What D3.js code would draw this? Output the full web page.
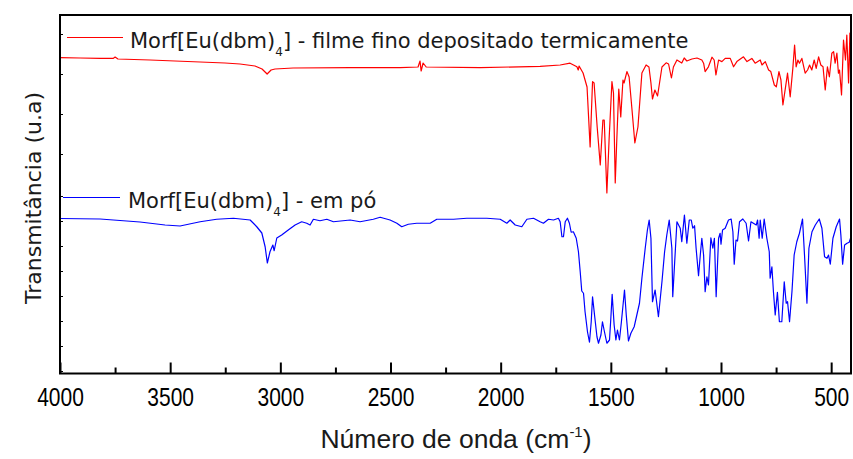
<!DOCTYPE html>
<html><head><meta charset="utf-8">
<script src="https://cdn.jsdelivr.net/npm/d3@7"></script>
<style>
html,body{margin:0;padding:0;background:#fff;}
svg{display:block;}
</style></head>
<body>
<svg id="chart" width="853" height="459"></svg>
<script>
// ---- data ----
const redWavenumber = [4000,3909,3818,3759,3750,3737,3591,3478,3364,3251,3183,3115,3083,3060,3042,3024,2942,2683,2456,2375,2366,2361,2352,2338,2093,1821,1730,1685,1654,1648,1644,1639,1626,1608,1594,1583,1576,1562,1548,1536,1530,1518,1508,1495,1488,1480,1473,1464,1455,1445,1440,1427,1417,1405,1391,1377,1359,1340,1327,1318,1311,1300,1288,1279,1268,1249,1238,1225,1216,1200,1178,1167,1155,1132,1109,1087,1079,1072,1057,1041,1031,1023,1011,996,981,958,943,928,898,882,860,845,822,814,799,784,774,758,749,737,728,719,707,698,686,674,666,659,651,644,633,618,607,598,588,577,568,557,547,537,527,517,508,497,489,482,474,467,462,453,444,435,429,421,415,410];
const redT = [34.1,34.0,33.9,33.9,34.25,33.75,33.5,33.25,33.0,32.75,32.5,32.0,31.25,30.0,31.0,31.25,31.5,31.6,31.6,31.75,33.25,30.75,32.75,31.75,31.6,31.9,32.25,32.7,31.8,31.0,32.0,31.5,30.25,26.75,11.75,28.1,27.75,16.75,7.25,18.5,18.5,0.25,13.5,28.1,25.25,2.75,13.5,26.25,19.25,28.5,27.75,30.6,29.25,21.75,12.75,16.75,30.25,32.25,31.75,27.75,23.75,26.0,24.5,27.75,31.75,32.8,32.5,29.0,31.75,33.5,32.75,34.0,33.25,33.75,34.0,33.5,32.7,30.6,31.8,34.2,33.5,29.75,33.5,33.1,33.9,33.9,31.8,33.1,34.3,33.1,33.9,32.7,33.5,32.25,33.1,31.0,30.6,27.25,26.8,30.6,28.5,22.25,26.8,30.2,24.3,31.4,37.25,31.8,33.5,32.7,33.9,30.2,31.0,32.25,31.0,33.5,31.4,34.3,32.25,31.8,26.0,31.8,29.3,35.2,35.6,32.7,35.2,30.2,31.0,24.75,38.5,33.5,39.75,27.75,40.25,24.25];

const blueWavenumber = [4000,3818,3637,3523,3455,3364,3289,3213,3137,3107,3084,3069,3059,3047,3034,3028,3016,2994,2964,2933,2903,2880,2865,2850,2820,2789,2759,2683,2638,2578,2547,2502,2471,2449,2419,2381,2320,2290,2214,2154,2063,2002,1972,1957,1934,1904,1881,1851,1821,1806,1783,1760,1738,1730,1722,1715,1707,1697,1688,1680,1670,1657,1647,1639,1632,1624,1617,1606,1597,1589,1583,1574,1563,1556,1545,1538,1529,1518,1506,1500,1494,1485,1477,1470,1461,1452,1438,1430,1420,1409,1394,1382,1370,1359,1344,1334,1326,1318,1311,1299,1284,1268,1256,1246,1235,1223,1219,1211,1200,1185,1178,1166,1155,1144,1135,1128,1120,1113,1107,1102,1094,1087,1079,1072,1064,1057,1046,1037,1030,1022,1011,1004,1000,993,981,966,954,946,940,932,925,916,901,886,875,864,853,840,834,827,822,813,804,792,781,777,769,762,754,744,735,724,713,704,698,689,678,668,656,644,630,621,610,601,587,572,554,542,530,519,512,504,492,477,462,456,448,439,428,418,410];
const blueT = [61.0,60.8,59.6,58.4,58.0,59.7,60.7,61.1,60.4,57.7,55.2,49.7,43.2,47.7,50.4,48.1,53.2,54.4,56.4,58.4,59.7,59.1,58.4,60.7,60.1,60.7,59.7,60.4,59.7,60.7,61.5,60.4,59.1,57.7,58.7,59.1,59.1,60.7,60.7,61.1,61.1,60.7,59.1,60.4,58.4,57.7,60.7,61.1,59.7,59.1,60.7,60.4,61.1,59.7,53.7,53.7,59.7,61.1,59.1,55.5,55.7,53.1,47.7,39.7,32.0,31.1,23.7,15.7,11.5,19.7,29.7,22.4,13.7,11.1,14.4,19.7,15.7,11.1,12.4,21.1,30.7,18.4,12.4,16.4,12.4,19.7,32.4,22.4,12.0,15.1,17.7,22.4,27.1,37.1,49.1,56.4,60.4,53.1,27.7,32.4,21.7,35.7,47.7,54.4,60.4,49.1,29.7,42.4,59.7,57.1,51.7,62.4,51.1,60.4,60.4,57.1,58.1,49.1,43.1,38.1,46.4,53.1,46.4,31.7,37.7,34.4,53.3,49.1,53.1,29.7,53.1,55.1,50.7,56.4,57.1,60.4,60.8,55.7,42.7,52.4,52.0,59.7,60.8,59.1,52.0,59.7,59.1,58.4,60.4,53.1,60.4,53.1,60.8,53.1,47.7,37.1,41.7,31.7,22.4,31.5,19.7,19.7,35.7,27.1,27.7,19.7,31.7,46.4,51.7,55.1,60.8,46.4,27.1,49.1,55.7,58.4,60.8,57.1,45.7,45.1,46.4,42.7,53.1,57.7,60.8,54.4,42.7,50.4,51.1,51.5,53.7];

const xMajorTicks = [4000,3500,3000,2500,2000,1500,1000,500];
const xMinorTicks = [3750,3250,2750,2250,1750,1250,750];
const topPanelTicks = [10,20,30,40];
const bottomPanelTicks = [0,10,20,30,40,50,60,70];

const redLabel = "Morf[Eu(dbm)";
const blueLabel = "Morf[Eu(dbm)";
const redSuffix = "] - filme fino depositado termicamente";
const blueSuffix = "] - em pó";

// ---- layout ----
const svg = d3.select("#chart");
const L = 60, R = 851, T = 15, B = 373.5;
const x = d3.scaleLinear().domain([4000, 410]).range([L, R]);
const yTop = d3.scaleLinear().domain([0, 44.75]).range([194, T]);
const yBot = d3.scaleLinear().domain([-1, 70.2]).range([B, 195.5]);

svg.append("clipPath").attr("id","plotclip").append("rect")
  .attr("x", L).attr("y", T).attr("width", R - L).attr("height", B - T);

const lineRed = d3.line().x((d,i)=>x(redWavenumber[i])).y(d=>yTop(d));
const lineBlue = d3.line().x((d,i)=>x(blueWavenumber[i])).y(d=>yBot(d));

const plot = svg.append("g").attr("clip-path","url(#plotclip)");
plot.append("path").datum(redT).attr("d", lineRed)
  .attr("fill","none").attr("stroke","#ff0000").attr("stroke-width",1.2).attr("stroke-linejoin","round");
plot.append("path").datum(blueT).attr("d", lineBlue)
  .attr("fill","none").attr("stroke","#0000ff").attr("stroke-width",1.2).attr("stroke-linejoin","round");

// frame
svg.append("rect").attr("x", L).attr("y", T).attr("width", R - L).attr("height", B - T)
  .attr("fill","none").attr("stroke","#000").attr("stroke-width",2);

// bottom axis
const xAxis = svg.append("g").attr("transform",`translate(0,${B})`)
  .call(d3.axisBottom(x).tickValues(xMajorTicks).tickSizeInner(-11).tickSizeOuter(0).tickPadding(0).tickFormat(d3.format("d")));
xAxis.select(".domain").remove();
xAxis.selectAll("line").attr("stroke-width",2);
xAxis.selectAll("text")
  .attr("font-family","'Liberation Sans',Arial,sans-serif")
  .attr("font-size",25).attr("fill","#000")
  .attr("dy",null).attr("y",null)
  .attr("transform","translate(0,32) scale(0.84,1)");
const xMinor = svg.append("g").attr("transform",`translate(0,${B})`)
  .call(d3.axisBottom(x).tickValues(xMinorTicks).tickSizeInner(-6).tickSizeOuter(0).tickFormat(""));
xMinor.select(".domain").remove();
xMinor.selectAll("line").attr("stroke-width",2);

// left ticks (inward)
const lt = svg.append("g").attr("transform",`translate(${L},0)`)
  .call(d3.axisRight(yTop).tickValues(topPanelTicks).tickSize(3).tickFormat(""));
lt.select(".domain").remove();
const lb = svg.append("g").attr("transform",`translate(${L},0)`)
  .call(d3.axisRight(yBot).tickValues(bottomPanelTicks).tickSize(3).tickFormat(""));
lb.select(".domain").remove();

// legends
const legFont = "'DejaVu Sans',Verdana,sans-serif";
function legend(y, color, x1, x2, tx, label, suffix) {
  svg.append("line").attr("x1",x1).attr("x2",x2).attr("y1",y).attr("y2",y)
    .attr("stroke",color).attr("stroke-width",1.2);
  const t = svg.append("text").attr("x",tx).attr("y",y+10.5).attr("font-family",legFont)
    .attr("font-size",21).attr("fill","#1a1a1a");
  t.append("tspan").text(label);
  t.append("tspan").attr("font-size",12).attr("dy",8).text("4");
  t.append("tspan").attr("dy",-8).text(suffix);
}
legend(37.5, "#ff0000", 67, 123, 130, redLabel, redSuffix);
legend(197.5, "#0000ff", 63, 120, 128, blueLabel, blueSuffix);

// axis titles
svg.append("text").attr("transform","translate(41,198) rotate(-90)").attr("text-anchor","middle")
  .attr("font-family",legFont).attr("font-size",22).attr("fill","#1a1a1a").text("Transmitância (u.a)");
const xt = svg.append("text").attr("x",456).attr("y",448).attr("text-anchor","middle")
  .attr("font-family","'Liberation Sans',Arial,sans-serif").attr("font-size",26.5).attr("fill","#1a1a1a");
xt.append("tspan").text("Número de onda (cm");
xt.append("tspan").attr("font-size",15).attr("dy",-11).text("-1");
xt.append("tspan").attr("dy",11).text(")");
</script>
</body></html>
